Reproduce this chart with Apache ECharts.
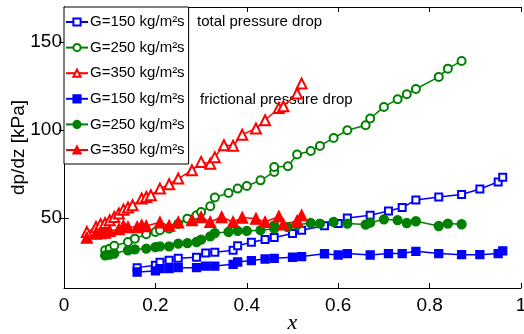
<!DOCTYPE html>
<html>
<head>
<meta charset="utf-8">
<script src="https://cdn.jsdelivr.net/npm/echarts@6/dist/echarts.min.js"></script>
<style>
  html, body { margin: 0; padding: 0; background: #fff; }
  #chart { width: 524px; height: 334px; }
</style>
</head>
<body>
<div id="chart"></div>
<script>
// G=150
const x150 = [0.16, 0.20, 0.21, 0.23, 0.25, 0.29, 0.31, 0.33, 0.37, 0.38, 0.41, 0.44, 0.46, 0.50, 0.52, 0.57, 0.60, 0.62, 0.67, 0.71, 0.74, 0.77, 0.82, 0.87, 0.91, 0.95, 0.96];
const total150 = [21.6, 22.9, 24.6, 25.8, 26.9, 27.5, 29.9, 30.3, 31.5, 34.1, 36.0, 37.6, 38.7, 41.0, 42.9, 45.5, 46.7, 49.9, 51.4, 53.9, 55.8, 60.1, 61.8, 63.2, 66.4, 70.4, 73.0];
const fric150 = [19.1, 19.7, 21.0, 21.0, 21.6, 21.6, 22.5, 22.5, 23.5, 24.8, 25.6, 26.5, 26.9, 27.5, 27.9, 29.5, 28.8, 29.6, 28.8, 29.6, 29.6, 30.9, 29.6, 29.0, 29.0, 29.6, 31.1];

// G=250
const x250 = [0.09, 0.10, 0.11, 0.14, 0.155, 0.18, 0.20, 0.21, 0.23, 0.25, 0.27, 0.29, 0.30, 0.32, 0.33, 0.36, 0.38, 0.40, 0.43, 0.46, 0.46, 0.49, 0.51, 0.54, 0.56, 0.59, 0.62, 0.66, 0.67, 0.70, 0.73, 0.75, 0.77, 0.82, 0.84, 0.87];
const total250 = [31.5, 32.4, 34.1, 36.2, 38.1, 40.6, 41.9, 42.9, 43.8, 46.5, 49.5, 51.4, 53.3, 56.5, 61.5, 64.1, 66.6, 68.1, 71.3, 76.1, 78.9, 79.3, 86.0, 88.0, 90.9, 95.4, 99.8, 102.7, 106.5, 113.1, 117.5, 120.3, 123.3, 130.2, 134.9, 139.3];
const fric250 = [28.6, 29.0, 29.6, 31.5, 32.0, 32.4, 33.3, 33.7, 33.7, 35.3, 35.6, 36.2, 37.5, 39.4, 41.3, 41.9, 42.5, 42.5, 42.9, 43.8, 45.7, 44.7, 46.0, 47.0, 46.7, 47.6, 46.7, 46.1, 47.2, 49.1, 48.6, 47.0, 48.0, 45.3, 46.7, 46.3];

// G=350
const x350t = [0.05, 0.07, 0.08, 0.09, 0.10, 0.11, 0.12, 0.13, 0.14, 0.15, 0.17, 0.18, 0.19, 0.21, 0.23, 0.25, 0.28, 0.30, 0.32, 0.33, 0.35, 0.37, 0.39, 0.42, 0.44, 0.47, 0.48, 0.51, 0.52];
const total350 = [41.9, 44.7, 46.3, 47.0, 48.6, 50.4, 52.4, 54.6, 55.8, 57.1, 60.9, 61.8, 62.8, 66.6, 69.1, 72.3, 77.0, 81.8, 80.8, 84.5, 91.3, 91.0, 97.3, 100.8, 105.5, 112.5, 113.5, 120.7, 126.4];
const x350f = [0.05, 0.07, 0.08, 0.09, 0.10, 0.12, 0.13, 0.14, 0.16, 0.17, 0.18, 0.21, 0.23, 0.25, 0.28, 0.30, 0.32, 0.345, 0.37, 0.39, 0.42, 0.44, 0.47, 0.48, 0.51, 0.52];
const fric350 = [38.7, 41.0, 41.3, 41.6, 42.5, 43.5, 45.5, 44.7, 44.7, 45.7, 45.3, 47.4, 45.5, 47.4, 48.6, 50.4, 47.6, 50.4, 47.6, 50.1, 49.5, 47.6, 50.8, 46.3, 48.2, 51.4];

const yTicks = [50, 100, 150];
const legendLabels = {
  t150: 'G=150 kg/m²s', t250: 'G=250 kg/m²s', t350: 'G=350 kg/m²s',
  f150: 'G=150 kg/m²s', f250: 'G=250 kg/m²s', f350: 'G=350 kg/m²s',
};

const BLUE = '#0000ff', GREEN = '#008000', RED = '#ff0000';
const zip = (xs, ys) => xs.map((x, i) => [x, ys[i]]);

function makeSeries(name, xs, ys, color, symbol, size) {
  return {
    name,
    type: 'line',
    data: zip(xs, ys),
    symbol,
    symbolSize: size,
    showSymbol: true,
    lineStyle: { color, width: 1.5 },
    itemStyle: { color, borderColor: color, borderWidth: 1.3 },
    emphasis: { disabled: true },
    animation: false,
  };
}

const chart = echarts.init(document.getElementById('chart'));

const axisBase = {
  type: 'value',
  axisLine: { show: true, lineStyle: { color: '#000', width: 1 } },
  axisTick: { show: true, inside: true, length: 5, lineStyle: { color: '#000' } },
  splitLine: { show: false },
};

chart.setOption({
  animation: false,
  grid: { left: 64, right: 3, top: 7, bottom: 46, containLabel: false, outerBoundsMode: 'none' },
  legend: {
    orient: 'vertical',
    left: 64,
    top: 7,
    padding: [5, 4, 4, 1],
    itemWidth: 22,
    itemHeight: 9,
    itemGap: 5.6,
    backgroundColor: '#fff',
    borderColor: '#000',
    borderWidth: 1,
    borderRadius: 0,
    selectedMode: false,
    formatter: name => legendLabels[name],
    textStyle: { fontFamily: 'Liberation Sans', fontSize: 15, color: '#000', lineHeight: 20, padding: [0, 0, 0, -3] },
    data: ['t150', 't250', 't350', 'f150', 'f250', 'f350'],
  },
  xAxis: [
    Object.assign({}, axisBase, {
      position: 'bottom',
      min: 0, max: 1, interval: 0.2,
      axisLabel: { color: '#000', fontFamily: 'Liberation Sans', fontSize: 19, margin: 8,
        formatter: v => (v === 0 || v === 1) ? String(v) : v.toFixed(1) },
      name: 'x',
      nameLocation: 'middle',
      nameGap: 24,
      nameMoveOverlap: false,
      nameTextStyle: { fontFamily: 'Liberation Serif', fontStyle: 'italic', fontSize: 22, color: '#000' },
    }),
    Object.assign({}, axisBase, {
      position: 'top',
      min: 0, max: 1, interval: 0.2,
      axisLabel: { show: false },
    }),
  ],
  yAxis: [
    Object.assign({}, axisBase, {
      position: 'left',
      min: 10, max: 170,
      axisTick: { show: true, inside: true, length: 5, lineStyle: { color: '#000' }, customValues: yTicks },
      axisLabel: { color: '#000', fontFamily: 'Liberation Sans', fontSize: 19, margin: 2, customValues: yTicks },
      name: 'dp/dz [kPa]',
      nameLocation: 'middle',
      nameGap: 36,
      nameMoveOverlap: false,
      nameTextStyle: { fontFamily: 'Liberation Sans', fontSize: 19, color: '#000' },
    }),
    Object.assign({}, axisBase, {
      position: 'right',
      min: 10, max: 170,
      axisTick: { show: true, inside: true, length: 5, lineStyle: { color: '#000' }, customValues: yTicks },
      axisLabel: { show: false, customValues: yTicks },
    }),
  ],
  graphic: [
    { type: 'text', left: 197, top: 14, style: { text: 'total pressure drop', fontFamily: 'Liberation Sans', fontSize: 15, fill: '#000' } },
    { type: 'text', left: 200, top: 92, style: { text: 'frictional pressure drop', fontFamily: 'Liberation Sans', fontSize: 15, fill: '#000' } },
  ],
  series: [
    makeSeries('t150', x150, total150, BLUE, 'emptyRect', 7),
    makeSeries('t250', x250, total250, GREEN, 'emptyCircle', 8),
    makeSeries('t350', x350t, total350, RED, 'emptyTriangle', 10),
    makeSeries('f150', x150, fric150, BLUE, 'rect', 8),
    makeSeries('f250', x250, fric250, GREEN, 'circle', 9),
    makeSeries('f350', x350f, fric350, RED, 'triangle', 11),
  ],
});
</script>
</body>
</html>
